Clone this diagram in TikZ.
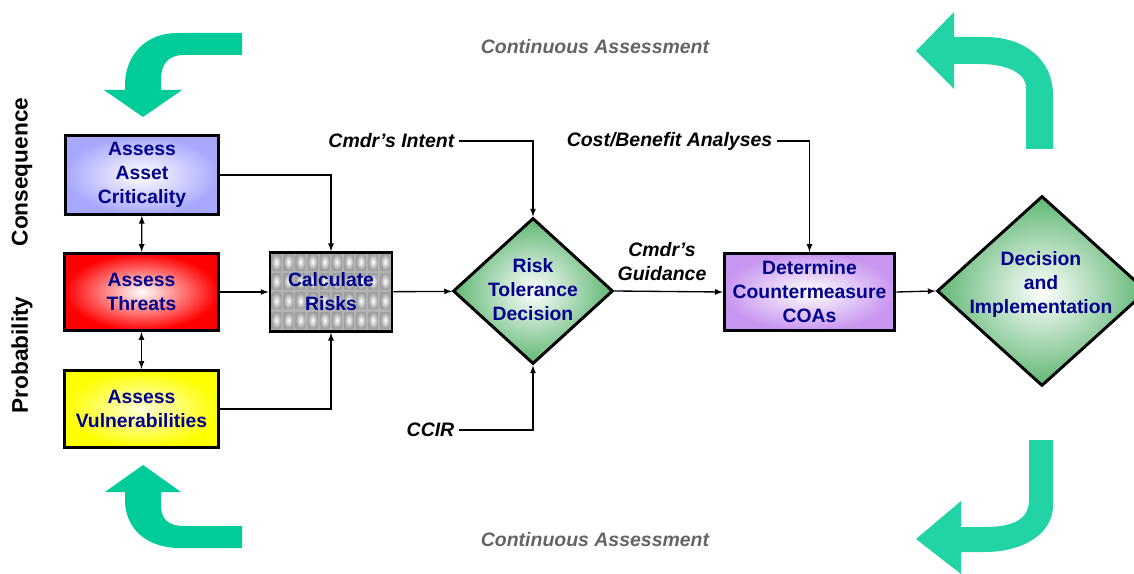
\documentclass[tikz,border=0pt]{standalone}
\usepackage{fontspec}
\setmainfont{Liberation Sans}
\usetikzlibrary{shapes.geometric}

\definecolor{navy}{RGB}{0,0,140}
\definecolor{lav}{RGB}{168,168,255}
\definecolor{dgreen}{RGB}{95,182,115}
\definecolor{lilac}{RGB}{200,150,240}
\definecolor{sea}{RGB}{0,204,153}
\definecolor{sealight}{RGB}{34,211,165}
\definecolor{ashgray}{RGB}{100,100,100}

\begin{document}
\begin{tikzpicture}[x=0.75pt,y=-0.75pt,
assessbox/.style={draw=black,line width=2.2pt,minimum width=115pt,minimum height=58pt,inner sep=0pt,align=center,text=navy,font=\fontsize{14.5}{18}\selectfont\bfseries},
dmd/.style={diamond,draw=black,line width=2.2pt,inner sep=0pt,inner color=white,outer color=dgreen},
dtext/.style={align=center,text=navy,font=\fontsize{14.5}{18}\selectfont\bfseries},
lbl/.style={align=center,font=\fontsize{14.6}{18}\selectfont\bfseries\itshape},
side/.style={rotate=90,font=\fontsize{17}{20}\selectfont\bfseries},
link/.style={line width=1pt,-latex},
both/.style={line width=1pt,latex-latex}]

\useasboundingbox (0,0) rectangle (1134,574);

% left column
\node[assessbox,minimum height=59pt,inner color=white,outer color=lav] (asset) at (142,175) {Assess\\Asset\\Criticality};
\node[assessbox,inner color=white,outer color=red] (threat) at (141.5,292) {Assess\\Threats};
\node[assessbox,inner color=yellow!15,outer color=yellow] (vuln) at (141.5,409) {Assess\\Vulnerabilities};

\node[side] (conseq) at (22,172) {Consequence};
\node[side] (prob) at (22,355) {Probability};

% grid behind Calculate Risks
\fill[gray!60] (270,252) rectangle (392,331);
\foreach \i in {0,...,9}
  \foreach \j in {0,...,3}
    \shade[inner color=white,outer color=gray!75] (271.5+\i*12.1,254+\j*19.4) rectangle ++(9.5,16);
\node[assessbox,minimum width=91.5pt,minimum height=59pt] (calc) at (331,292) {Calculate\\Risks};

\node[dmd,minimum width=120pt,minimum height=109.5pt] (risk) at (533,291) {};
\node[dtext] (risktext) at (533,289.5) {Risk\\Tolerance\\Decision};

\node[assessbox,minimum width=128pt,inner color=white,outer color=lilac] (coa) at (809.5,292) {Determine\\Countermeasure\\COAs};

\node[dmd,minimum width=157.5pt,minimum height=142.5pt] (decide) at (1042,291) {};
\node[dtext] (decidetext) at (1041,284.5) {Decision\\and\\Implementation};

% inputs
\node[lbl,anchor=east] (intent) at (459,141) {Cmdr's Intent};
\node[lbl,anchor=east] (ccir) at (459,430) {CCIR};
\node[lbl,anchor=east] (cost) at (777,141) {Cost/Benefit Analyses};
\node[lbl] (guide) at (662,262) {Cmdr's\\Guidance};

\draw[both] (asset) -- (threat);
\draw[both] (threat) -- (vuln);
\draw[link] (asset.east) -| (calc.north);
\draw[link] (threat) -- (calc);
\draw[link] (vuln.east) -| (calc.south);
\draw[link] (calc) -- (risk);
\draw[link] (intent.east) -| (risk.north);
\draw[link] (ccir.east) -| (risk.south);
\draw[link] (risk.east) -- (coa.west);
\draw[link] (cost.east) -| (coa.north);
\draw[link] (coa.east) -- (decide.west);

% continuous assessment
\node[lbl,text=ashgray] (cont1) at (595,47) {Continuous Assessment};
\node[lbl,text=ashgray] (cont2) at (595,540) {Continuous Assessment};

\fill[sea] (242,33) -- (177,33) .. controls (146,33) and (125,55) .. (125,85) -- (125,90) -- (104,90) -- (143,117) -- (182,90) -- (161,90) -- (161,80) .. controls (161,64) and (168,55) .. (184,55) -- (242,55) -- cycle;
\fill[sea] (143,465) -- (181,492) -- (161,492) -- (161,505) .. controls (161,519) and (168,526) .. (184,526) -- (242,526) -- (242,548) -- (180,548) .. controls (146,548) and (125,528) .. (125,500) -- (125,492) -- (105,492) -- cycle;
\fill[sealight] (916,51) -- (954,12) -- (954,37) -- (985,37) .. controls (1025,37) and (1053,60) .. (1053,95) -- (1053,149) -- (1026,149) -- (1026,88) .. controls (1026,72) and (1005,64) .. (980,64) -- (954,64) -- (954,89) -- cycle;
\fill[sealight] (916,539) -- (961,501) -- (961,527) -- (985,527) .. controls (1012,527) and (1029,520) .. (1029,500) -- (1029,440) -- (1053,440) -- (1053,505) .. controls (1053,536) and (1020,552) .. (985,552) -- (961,552) -- (961,574) -- cycle;

\end{tikzpicture}
\end{document}
